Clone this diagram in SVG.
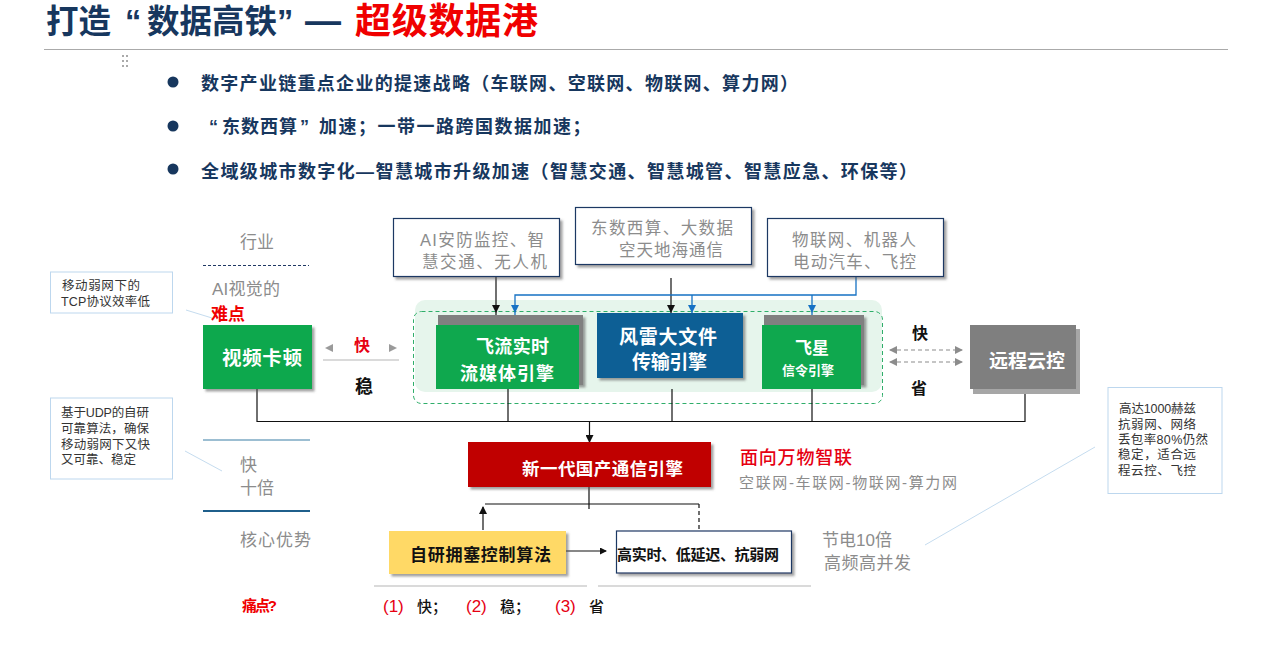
<svg xmlns="http://www.w3.org/2000/svg" width="1262" height="651" viewBox="0 0 1262 651">
<style>
text{font-family:"Liberation Sans","Noto Sans CJK SC",sans-serif}
.b{font-weight:700}
.navy{fill:#17375e}
.gray{fill:#8c8c8c}
.w{fill:#fff;font-weight:700}
.red{fill:#e60012}
.k{fill:#111}
.cb{fill:#fff;stroke:#bdd7ee;stroke-width:1}
.ct{font-size:12.500px;fill:#333}
.box{fill:#fff;stroke:#1f3864;stroke-width:1.2}
.lead{stroke:#c5dcef;stroke-width:1;fill:none}
.blk{stroke:#111;stroke-width:1.2;fill:none}
.blu{stroke:#1672c4;stroke-width:1.3;fill:none}
.gl{stroke:#b5b5b5;stroke-width:1.2;fill:none}
.dg{stroke:#8c8c8c;stroke-width:1.2;stroke-dasharray:4 3;fill:none}
</style>
<defs>
<filter id="sh" x="-10%" y="-15%" width="125%" height="135%"><feDropShadow dx="2.5" dy="2.5" stdDeviation="1.2" flood-color="#555" flood-opacity=".55"/></filter>
<marker id="ak" markerWidth="7" markerHeight="7" refX="6" refY="3.5" orient="auto" markerUnits="userSpaceOnUse"><path d="M0 0L7 3.5L0 7z" fill="#111"/></marker>
<marker id="abig" markerWidth="8" markerHeight="8" refX="7" refY="4" orient="auto" markerUnits="userSpaceOnUse"><path d="M0 0L8 4L0 8z" fill="#111"/></marker>
<marker id="ab" markerWidth="8" markerHeight="8" refX="7" refY="4" orient="auto" markerUnits="userSpaceOnUse"><path d="M0 0L8 4L0 8z" fill="#1672c4"/></marker>
<marker id="ag" markerWidth="8" markerHeight="8" refX="7" refY="4" orient="auto-start-reverse" markerUnits="userSpaceOnUse"><path d="M0 0L8 4L0 8z" fill="#8c8c8c"/></marker>
</defs>
<rect width="1262" height="651" fill="#fff"/>

<g id="title">
<text y="33" class="b navy" font-size="32.500"><tspan x="46">打造</tspan><tspan x="125">“</tspan><tspan x="147">数据高铁</tspan><tspan x="277">”</tspan><tspan x="305" font-size="36">—</tspan></text>
<text x="355" y="34" class="b" font-size="36" fill="#f00000" textLength="183">超级数据港</text>
<line x1="44" y1="49.5" x2="1228" y2="49.5" stroke="#aaa" stroke-width="1"/>
<g fill="#aaa"><rect x="122" y="55" width="2" height="2"/><rect x="126" y="55" width="2" height="2"/><rect x="122" y="60" width="2" height="2"/><rect x="126" y="60" width="2" height="2"/><rect x="122" y="65" width="2" height="2"/><rect x="126" y="65" width="2" height="2"/></g>
</g>

<g id="bullets">
<circle cx="173" cy="82" r="5.500" fill="#17375e"/>
<text x="201" y="90" class="b navy" font-size="18" textLength="597">数字产业链重点企业的提速战略（车联网、空联网、物联网、算力网）</text>
<circle cx="173" cy="126" r="5.500" fill="#17375e"/>
<text y="133" class="b navy" font-size="18"><tspan x="209">“</tspan><tspan x="222" letter-spacing="1">东数西算</tspan><tspan x="300">”</tspan><tspan x="319" letter-spacing="1.500">加速；一带一路跨国数据加速；</tspan></text>
<circle cx="173" cy="169" r="5.500" fill="#17375e"/>
<text x="201" y="178" class="b navy" font-size="18" textLength="716">全域级城市数字化—智慧城市升级加速（智慧交通、智慧城管、智慧应急、环保等）</text>
</g>

<g id="panel">
<rect x="415" y="300" width="467" height="92" rx="10" fill="#e6f5ec"/>
<rect x="413.500" y="311.500" width="469" height="92" rx="8" fill="none" stroke="#2fae6a" stroke-width="1" stroke-dasharray="4 3"/>
</g>

<g id="connectors">
<path class="blk" d="M257 389V421.500H1025V390"/>
<path class="blk" d="M508 389V421M672 389V421M812 389V421"/>
<path class="blk" stroke-width="1.600" d="M589.500 421.500V442" marker-end="url(#abig)"/>
<path class="blk" d="M496 277V312" marker-end="url(#abig)"/>
<path class="blk" d="M496 312V325"/>
<path class="blk" d="M671 278V312" marker-end="url(#abig)"/>
<path class="blk" d="M671 312V323"/>
<path class="blu" d="M856 277V295H515V312" marker-end="url(#ab)"/>
<path class="blu" d="M692 295V312" marker-end="url(#ab)"/>
<path class="blu" d="M812 295V312" marker-end="url(#ab)"/>
<path class="blu" d="M515 312V323M692 312V314M812 312V323"/>
<path class="blk" d="M589 487V509M699 504H485"/>
<path class="blk" d="M483 530V507" marker-end="url(#abig)"/>
<path class="blk" stroke-dasharray="4 3" d="M699 504V530"/>
<path class="blk" d="M566 551H606" marker-end="url(#ak)"/>
<path class="gl" d="M323 360H399"/>
<path d="M333 344V352L325 348zM389 344V352L397 348z" fill="#9a9a9a"/>
<path class="dg" d="M890 350H962" marker-start="url(#ag)" marker-end="url(#ag)"/>
<path class="dg" d="M890 362H962" marker-start="url(#ag)" marker-end="url(#ag)"/>
<path class="lead" d="M186 310L212 318M185 451L222 471M925 545L1095 447"/>
<path stroke="#1f3864" stroke-width="1" stroke-dasharray="3 2" fill="none" d="M203 265.500H309"/>
<path stroke="#3a7ea5" stroke-width="1.200" fill="none" d="M203 440H310"/>
<path stroke="#1f5f8b" stroke-width="1.800" fill="none" d="M203 511H310"/>
<path class="gl" d="M374 586H587M598 586H811"/>
</g>

<g id="labels-left">
<text x="240" y="248" class="gray" font-size="17" textLength="34">行业</text>
<text x="212" y="295" class="gray" font-size="17" textLength="68">AI视觉的</text>
<text x="211" y="320" class="b" fill="#f00000" font-size="17" textLength="34">难点</text>
<text x="240" y="471" class="gray" font-size="17">快</text>
<text x="240" y="494" class="gray" font-size="17" textLength="34">十倍</text>
<text x="240" y="546" class="gray" font-size="17" textLength="71">核心优势</text>
<text x="242" y="611" class="b" fill="#f00000" font-size="15" textLength="35">痛点?</text>
<text x="354" y="351" class="b red" font-size="16">快</text>
<text x="355" y="393" class="b k" font-size="18">稳</text>
<text x="912" y="339" class="b k" font-size="16">快</text>
<text x="911" y="394" class="b k" font-size="16">省</text>
</g>

<g id="callout-1"><rect class="cb" x="50.500" y="272" width="122" height="41"/>
<text class="ct" x="62" y="290" textLength="78">移动弱网下的</text><text class="ct" x="61" y="306" textLength="89">TCP协议效率低</text></g>
<g id="callout-2"><rect class="cb" x="50.500" y="398" width="122" height="81"/>
<text class="ct" x="61" y="417" textLength="88">基于UDP的自研</text><text class="ct" x="61" y="433" textLength="88">可靠算法，确保</text><text class="ct" x="61" y="449" textLength="89">移动弱网下又快</text><text class="ct" x="61" y="464" textLength="75">又可靠、稳定</text></g>
<g id="callout-3"><rect class="cb" x="1108" y="387.500" width="114" height="106"/>
<text class="ct" x="1119" y="413" textLength="77">高达1000赫兹</text><text class="ct" x="1118" y="429" textLength="78">抗弱网、网络</text><text class="ct" x="1118" y="444" textLength="90">丢包率80%仍然</text><text class="ct" x="1118" y="459" textLength="78">稳定，适合远</text><text class="ct" x="1118" y="475" textLength="78">程云控、飞控</text></g>

<g id="node-video"><rect x="203" y="325" width="109" height="64" fill="#0fa84e" filter="url(#sh)"/><text x="222" y="365" class="w" font-size="19.500" textLength="80">视频卡顿</text></g>

<g id="node-ai"><rect class="box" x="393.500" y="218.500" width="166" height="58" filter="url(#sh)"/>
<text x="420" y="246" class="gray" font-size="16.500" textLength="124">AI安防监控、智</text><text x="422" y="268" class="gray" font-size="16.500" textLength="125">慧交通、无人机</text></g>
<g id="node-east"><rect class="box" x="575.500" y="207.500" width="176" height="57" filter="url(#sh)"/>
<text x="591" y="234" class="gray" font-size="16.500" textLength="142">东数西算、大数据</text><text x="619" y="256" class="gray" font-size="16.500" textLength="104">空天地海通信</text></g>
<g id="node-iot"><rect class="box" x="767.500" y="218.500" width="176" height="58" filter="url(#sh)"/>
<text x="792" y="246" class="gray" font-size="16.500" textLength="124">物联网、机器人</text><text x="793" y="268" class="gray" font-size="16.500" textLength="123">电动汽车、飞控</text></g>

<g id="node-feiliu"><rect x="438" y="315" width="145" height="70" fill="#808080" filter="url(#sh)"/><rect x="436" y="325" width="143" height="64" fill="#0fa84e"/>
<text x="476" y="353" class="w" font-size="18" textLength="73">飞流实时</text><text x="460" y="380" class="w" font-size="18" textLength="94">流媒体引擎</text></g>
<g id="node-fenglei"><rect x="597" y="313" width="146" height="65" fill="#085f95" filter="url(#sh)"/>
<text x="619" y="344" class="w" font-size="19" textLength="98">风雷大文件</text><text x="632" y="369" class="w" font-size="19" textLength="75">传输引擎</text></g>
<g id="node-feixing"><rect x="764" y="315" width="100" height="70" fill="#808080" filter="url(#sh)"/><rect x="762" y="325" width="99" height="64" fill="#0fa84e"/>
<text x="795" y="354" class="w" font-size="17" textLength="34">飞星</text><text x="782" y="375" class="w" font-size="13" textLength="52">信令引擎</text></g>
<g id="node-remote"><rect x="973" y="329" width="107" height="65" fill="#a6a6a6"/><rect x="970" y="325" width="106" height="64" fill="#7f7f7f"/>
<text x="989" y="368" class="w" font-size="19" font-weight="500" textLength="76">远程云控</text></g>

<g id="node-core"><rect x="468" y="442" width="243" height="45" fill="#c00000" filter="url(#sh)"/><text x="522" y="475" class="w" font-size="17.500" textLength="161">新一代国产通信引擎</text></g>
<g id="labels-core">
<text x="740" y="464" class="red" font-size="18" font-weight="500" textLength="112">面向万物智联</text>
<text x="739" y="488" class="gray" font-size="15" textLength="218">空联网-车联网-物联网-算力网</text>
<text x="822" y="546" class="gray" font-size="17" textLength="70">节电10倍</text>
<text x="824" y="569" class="gray" font-size="17" textLength="87">高频高并发</text>
</g>
<g id="node-algo"><rect x="389" y="531" width="177" height="43" fill="#ffd966" filter="url(#sh)"/><text x="410" y="561" class="b k" font-size="17" textLength="141">自研拥塞控制算法</text></g>
<g id="node-feat"><rect class="box" x="616.500" y="531" width="175" height="42" filter="url(#sh)"/><text x="617" y="560" class="b k" font-size="15" textLength="162">高实时、低延迟、抗弱网</text></g>
<g id="pain">
<text x="383" y="612" font-size="17" class="red">(1)</text><text x="417" y="612" font-size="15" class="k" font-weight="500">快；</text>
<text x="466" y="612" font-size="17" class="red">(2)</text><text x="500" y="612" font-size="15" class="k" font-weight="500">稳；</text>
<text x="555" y="612" font-size="17" class="red">(3)</text><text x="589" y="612" font-size="15" class="k" font-weight="500">省</text>
</g>
</svg>
